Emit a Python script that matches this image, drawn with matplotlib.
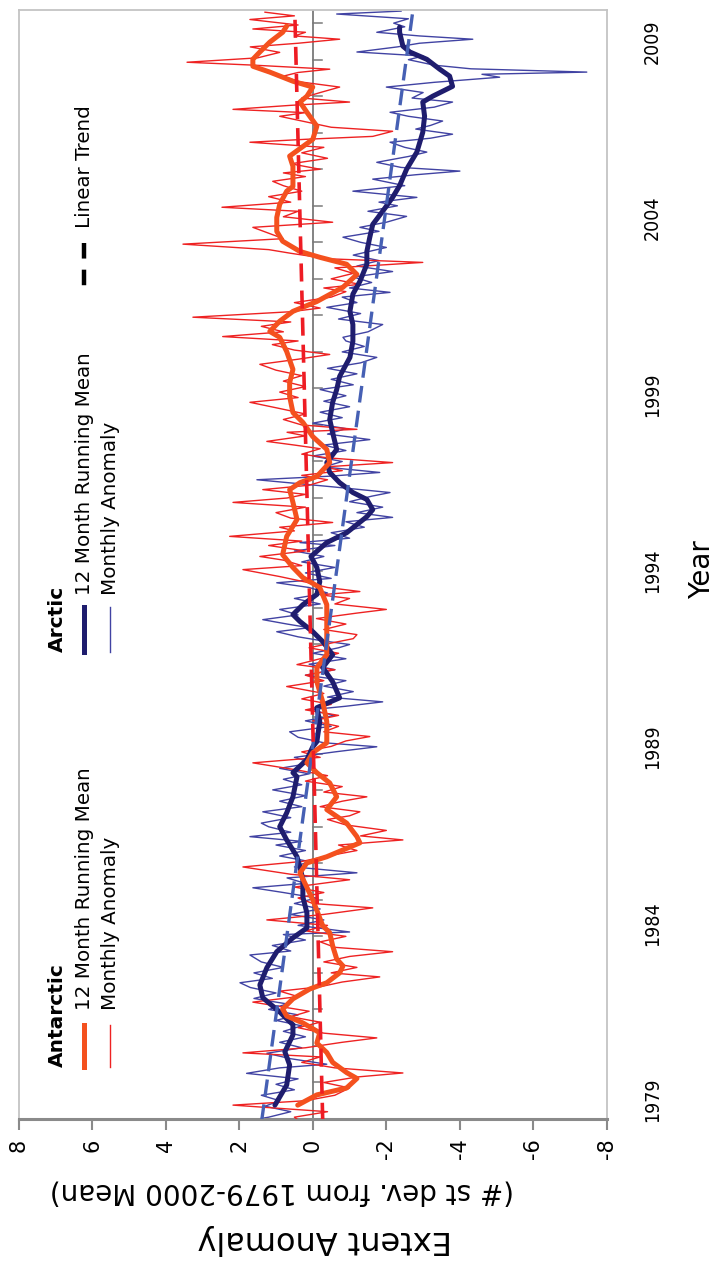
import numpy as np
import matplotlib.pyplot as plt
from matplotlib.lines import Line2D

plt.rcParams['font.family'] = ['DejaVu Sans']
plt.rcParams['axes.unicode_minus'] = False

# ---- data (year, anomaly in st dev) ----
arctic_mean_yr = [1979.38, 1979.93, 1980.48, 1980.84, 1981.30, 1981.58, 1981.93, 1982.32, 1982.67,
                  1983.14, 1983.58, 1983.96, 1984.23, 1984.64, 1985.08, 1985.55, 1985.90, 1986.18,
                  1986.64, 1987.00, 1987.38, 1987.82, 1988.37, 1988.48, 1988.84, 1989.19, 1989.33,
                  1989.88, 1990.26, 1990.53, 1990.97, 1991.36, 1991.71, 1992.07, 1992.34, 1992.62,
                  1992.81, 1993.08, 1993.36, 1993.71, 1994.10, 1994.40, 1994.78, 1995.05, 1995.49,
                  1995.68, 1995.96, 1996.15, 1996.42, 1996.70, 1996.97, 1997.33, 1997.79, 1998.15,
                  1998.62, 1998.97, 1999.33, 1999.85, 2000.29, 2000.75, 2001.11, 2001.58, 2001.93,
                  2002.40, 2002.75, 2003.14, 2003.49, 2003.85, 2004.23, 2004.55, 2005.00, 2005.47,
                  2006.01, 2006.45, 2006.84, 2007.00, 2007.19, 2007.27, 2007.55, 2007.74, 2008.01,
                  2008.21, 2008.37, 2008.75, 2008.89]
arctic_mean = [1.03, 0.71, 0.63, 0.76, 0.54, 0.54, 0.90, 1.36, 1.44,
               1.25, 0.98, 0.54, 0.16, 0.16, 0.27, 0.27, 0.35, 0.43,
               0.71, 0.90, 0.71, 0.54, 0.43, 0.54, 0.16, 0.00, -0.11,
               -0.19, -0.11, -0.73, -0.54, -0.27, -0.54, -0.27, 0.00, 0.35,
               0.54, 0.27, -0.11, -0.19, -0.11, 0.05, -0.38, -0.92, -1.47,
               -1.63, -1.47, -1.09, -0.73, -0.46, -0.38, -0.65, -0.54, -0.46,
               -0.54, -0.65, -0.73, -1.01, -1.09, -1.09, -1.01, -1.09, -1.28,
               -1.47, -1.47, -1.55, -1.63, -1.90, -2.17, -2.36, -2.55, -2.83,
               -2.99, -3.04, -2.99, -3.26, -3.64, -3.80, -3.72, -3.45, -3.10,
               -2.64, -2.45, -2.36, -2.36]

antarctic_mean_yr = [1979.38, 1979.66, 1979.85, 1980.11, 1980.27, 1980.55, 1980.82, 1981.08, 1981.36,
                     1981.63, 1981.82, 1982.01, 1982.29, 1982.56, 1982.73, 1983.00, 1983.19, 1983.38,
                     1983.74, 1984.10, 1984.29, 1985.00, 1985.74, 1986.01, 1986.18, 1986.56, 1986.73,
                     1987.10, 1987.47, 1987.82, 1988.20, 1988.48, 1988.75, 1989.03, 1989.30, 1989.88,
                     1990.42, 1990.97, 1991.36, 1991.71, 1992.18, 1992.62, 1993.08, 1993.55, 1993.82,
                     1994.10, 1994.45, 1994.95, 1995.41, 1995.88, 1996.23, 1996.42, 1996.59, 1996.97,
                     1997.33, 1997.68, 1998.07, 1998.34, 1998.78, 1999.16, 1999.52, 2000.01, 2000.40,
                     2000.56, 2000.84, 2001.11, 2001.38, 2001.77, 2002.12, 2002.40, 2002.59, 2002.75,
                     2003.03, 2003.30, 2003.68, 2004.04, 2004.40, 2004.53, 2005.08, 2005.36, 2005.82,
                     2006.18, 2006.56, 2006.84, 2007.00, 2007.25, 2007.41, 2007.66, 2007.82, 2008.01,
                     2008.21, 2008.48, 2008.75, 2008.92]
antarctic_mean = [0.41, -0.11, -0.92, -1.20, -0.92, -0.54, -0.38, -0.11, -0.19,
                  0.27, 0.71, 0.82, 0.54, 0.08, -0.38, -0.73, -0.82, -0.65,
                  -0.54, -0.46, -0.27, 0.00, 0.35, 0.16, -0.38, -1.28, -1.20,
                  -0.92, -0.38, -0.65, -0.46, -0.11, 0.16, 0.00, -0.38, -0.38,
                  -0.27, -0.11, -0.11, -0.38, -0.38, -0.38, -0.38, -0.19, 0.27,
                  0.54, 0.82, 0.71, 0.43, 0.54, 0.63, 0.35, -0.11, -0.46,
                  -0.38, 0.00, 0.27, 0.54, 0.63, 0.63, 0.54, 0.71, 0.90,
                  1.17, 0.90, 0.54, -0.11, -0.82, -1.20, -0.92, -0.19, 0.35,
                  0.82, 0.98, 0.98, 0.90, 0.71, 0.54, 0.54, 0.63, 0.00,
                  -0.11, 0.16, 0.35, 0.16, 0.00, 0.54, 1.17, 1.63, 1.63,
                  1.44, 1.17, 0.82, 0.71]

arctic_monthly_yr = [1978.9, 1979.05, 1979.2, 1979.35, 1979.5, 1979.65, 1979.8, 1979.95, 1980.1, 1980.25,
                     1980.4, 1980.5, 1980.65, 1980.8, 1980.95, 1981.1, 1981.25, 1981.4, 1981.55, 1981.7,
                     1981.85, 1982.0, 1982.15, 1982.3, 1982.45, 1982.6, 1982.73, 1982.85, 1983.0, 1983.15,
                     1983.3, 1983.49, 1983.6, 1983.75, 1983.9, 1984.05, 1984.12, 1984.3, 1984.45, 1984.6,
                     1984.75, 1984.9, 1985.05, 1985.2, 1985.33, 1985.45, 1985.6, 1985.74, 1985.9, 1986.05,
                     1986.2, 1986.35, 1986.5, 1986.6, 1986.73, 1986.85, 1987.0, 1987.1, 1987.25, 1987.41,
                     1987.55, 1987.7, 1987.85, 1988.01, 1988.15, 1988.3, 1988.45, 1988.6, 1988.75, 1988.9,
                     1989.05, 1989.19, 1989.3, 1989.45, 1989.6, 1989.75, 1989.9, 1990.05, 1990.2, 1990.3,
                     1990.42, 1990.55, 1990.7, 1990.85, 1991.0, 1991.15, 1991.3, 1991.45, 1991.6, 1991.75,
                     1991.9, 1991.99, 1992.1, 1992.2, 1992.34, 1992.45, 1992.55, 1992.67, 1992.8, 1992.95,
                     1993.1, 1993.25, 1993.4, 1993.55, 1993.68, 1993.8, 1993.95, 1994.1, 1994.25, 1994.4,
                     1994.55, 1994.7, 1994.78, 1994.9, 1995.05, 1995.2, 1995.35, 1995.47, 1995.6, 1995.75,
                     1995.9, 1996.05, 1996.15, 1996.3, 1996.5, 1996.6, 1996.7, 1996.85, 1997.0, 1997.15,
                     1997.3, 1997.45, 1997.6, 1997.75, 1997.9, 1998.05, 1998.2, 1998.35, 1998.5, 1998.65,
                     1998.8, 1998.97, 1999.1, 1999.25, 1999.4, 1999.55, 1999.7, 1999.85, 2000.0, 2000.15,
                     2000.3, 2000.4, 2000.55, 2000.75, 2000.9, 2001.05, 2001.22, 2001.35, 2001.5, 2001.63,
                     2001.75, 2001.9, 2002.05, 2002.2, 2002.35, 2002.5, 2002.65, 2002.86, 2003.0, 2003.14,
                     2003.3, 2003.41, 2003.55, 2003.71, 2003.85, 2004.0, 2004.1, 2004.23, 2004.4, 2004.55,
                     2004.73, 2004.85, 2004.95, 2005.05, 2005.19, 2005.35, 2005.47, 2005.6, 2005.74, 2005.85,
                     2005.96, 2006.1, 2006.2, 2006.32, 2006.45, 2006.56, 2006.7, 2006.84, 2006.95, 2007.1,
                     2007.25, 2007.38, 2007.52, 2007.6, 2007.66, 2007.75, 2007.85, 2008.0, 2008.1, 2008.21,
                     2008.35, 2008.45, 2008.56, 2008.65, 2008.75, 2008.9, 2009.0, 2009.12, 2009.25, 2009.33]
arctic_monthly = [2.07, 1.2, 0.6, 1.3, 0.9, 1.4, 0.5, 1.0, 0.4, 1.8,
                  0.9, -0.38, 0.6, 1.25, 0.3, 0.9, 0.2, 0.8, 0.3, 1.0,
                  0.4, 1.2, 0.7, 1.6, 1.0, 1.7, 1.98, 1.1, 1.6, 0.8,
                  1.4, 1.71, 0.6, 1.1, 0.2, 0.8, -1.0, 0.4, -0.3, 0.6,
                  -0.2, 0.5, -0.1, 0.8, 1.63, 0.2, 0.7, -1.2, 0.5, 0.1,
                  0.9, 0.2, 1.0, 0.3, 1.71, 0.6, 1.2, 1.4, 0.6, 1.36,
                  0.3, 0.9, 0.2, 1.09, 0.3, 0.8, 0.1, 0.9, 0.0, 0.5,
                  -0.6, -1.74, -0.3, 0.4, 0.63, -0.5, 0.2, -0.6, 0.1, -0.9,
                  -1.9, -0.4, -1.1, -0.3, -0.9, 0.2, -0.6, 0.1, -0.9, 0.0,
                  -0.7, -1.0, -0.2, 0.4, 0.98, 0.1, 0.7, 1.36, 0.4, 0.9,
                  -0.2, 0.5, -0.4, 0.1, 0.98, -0.5, 0.2, -0.6, 0.3, -0.3,
                  0.5, -0.6, 0.35, -1.0, -0.5, -1.4, -0.9, -2.17, -1.2, -1.9,
                  -1.0, -1.6, -2.1, -0.6, 1.52, -0.5, -1.82, -0.3, -0.8, 0.0,
                  -0.9, -0.3, -1.55, -0.4, -0.9, 0.0, -0.8, -0.2, -1.0, -0.3,
                  -0.9, -0.2, -1.1, -0.5, -1.2, -0.4, -1.3, -1.74, -0.8, -1.4,
                  -0.9, -0.82, -1.5, -1.9, -0.7, -1.3, -0.38, -1.2, -0.8, -2.1,
                  -1.0, -1.6, -1.1, -2.17, -1.2, -1.8, -1.1, -2.0, -1.3, -0.82,
                  -1.8, -1.28, -2.0, -2.55, -1.5, -2.3, -1.8, -2.83, -1.09, -2.5,
                  -1.63, -2.8, -4.0, -2.4, -1.74, -2.6, -3.1, -2.5, -2.1, -3.2,
                  -3.8, -2.8, -3.2, -3.53, -2.6, -2.1, -3.3, -3.8, -2.7, -3.0,
                  -2.0, -3.3, -5.08, -4.6, -7.45, -4.3, -3.3, -2.6, -3.0, -1.2,
                  -2.3, -2.9, -4.35, -2.9, -1.74, -2.5, -2.2, -2.6, -0.65, -2.4]

antarctic_monthly_yr = [1978.9, 1979.05, 1979.2, 1979.38, 1979.5, 1979.65, 1979.85, 1980.0, 1980.15, 1980.26,
                        1980.4, 1980.55, 1980.7, 1980.81, 1980.95, 1981.1, 1981.22, 1981.35, 1981.5, 1981.65,
                        1981.8, 1981.95, 1982.08, 1982.2, 1982.35, 1982.5, 1982.62, 1982.75, 1982.89, 1983.0,
                        1983.15, 1983.3, 1983.45, 1983.58, 1983.7, 1983.85, 1984.0, 1984.15, 1984.3, 1984.45,
                        1984.6, 1984.78, 1984.9, 1985.05, 1985.2, 1985.35, 1985.55, 1985.7, 1985.9, 1986.05,
                        1986.2, 1986.35, 1986.5, 1986.64, 1986.75, 1986.9, 1987.05, 1987.2, 1987.3, 1987.41,
                        1987.55, 1987.7, 1987.82, 1987.95, 1988.1, 1988.25, 1988.4, 1988.55, 1988.75, 1988.9,
                        1989.05, 1989.2, 1989.35, 1989.47, 1989.6, 1989.75, 1989.9, 1990.05, 1990.2, 1990.35,
                        1990.5, 1990.65, 1990.84, 1991.0, 1991.15, 1991.3, 1991.44, 1991.6, 1991.75, 1991.9,
                        1992.05, 1992.15, 1992.26, 1992.4, 1992.55, 1992.7, 1992.85, 1992.95, 1993.1, 1993.25,
                        1993.35, 1993.44, 1993.55, 1993.7, 1993.85, 1994.04, 1994.15, 1994.3, 1994.4, 1994.55,
                        1994.7, 1994.82, 1994.95, 1995.1, 1995.2, 1995.33, 1995.45, 1995.6, 1995.75, 1995.88,
                        1996.0, 1996.1, 1996.23, 1996.35, 1996.5, 1996.62, 1996.75, 1996.85, 1996.97, 1997.1,
                        1997.2, 1997.35, 1997.45, 1997.55, 1997.7, 1997.8, 1997.88, 1998.0, 1998.15, 1998.3,
                        1998.45, 1998.62, 1998.75, 1998.9, 1999.05, 1999.2, 1999.35, 1999.5, 1999.66, 1999.8,
                        1999.93, 2000.05, 2000.2, 2000.3, 2000.42, 2000.55, 2000.7, 2000.82, 2000.95, 2001.1,
                        2001.2, 2001.35, 2001.5, 2001.65, 2001.75, 2001.85, 2002.0, 2002.15, 2002.3, 2002.45,
                        2002.55, 2002.7, 2002.8, 2002.95, 2003.1, 2003.25, 2003.41, 2003.55, 2003.7, 2003.85,
                        2003.96, 2004.1, 2004.25, 2004.4, 2004.55, 2004.67, 2004.8, 2004.9, 2005.0, 2005.15,
                        2005.3, 2005.45, 2005.6, 2005.74, 2005.82, 2005.9, 2006.04, 2006.15, 2006.3, 2006.45,
                        2006.55, 2006.64, 2006.75, 2006.84, 2006.95, 2007.1, 2007.25, 2007.4, 2007.55, 2007.65,
                        2007.74, 2007.85, 2007.93, 2008.05, 2008.2, 2008.35, 2008.45, 2008.56, 2008.65, 2008.75,
                        2008.84, 2008.95, 2009.1, 2009.2, 2009.3]
antarctic_monthly = [0.3, 0.5, -0.4, 2.17, 0.2, -0.6, -1.0, -0.3, -1.2, -2.45,
                     -0.6, 0.3, -0.2, 1.9, 0.2, -0.8, -1.74, -0.3, 0.4, -0.2,
                     0.6, 0.1, 0.9, 1.63, 0.4, 0.9, -0.2, -0.8, -1.82, -0.5,
                     -1.2, -0.3, -1.0, -2.17, -0.6, -0.2, -0.9, 0.2, -0.4, 1.25,
                     -0.3, -1.63, 0.0, 0.4, -0.3, 0.5, -1.0, 0.6, 1.9, 0.3,
                     -0.4, -1.2, -0.7, -2.45, -1.3, -2.0, -0.9, -0.4, -1.0, -1.28,
                     -0.2, -0.8, -1.47, -0.3, -0.8, 0.2, -0.4, 0.4, 1.63, -0.2,
                     0.3, -0.5, -0.9, -1.55, -0.3, -0.7, 0.0, -0.7, 0.2, -0.5,
                     0.3, -0.3, 0.71, -0.3, 0.2, -0.6, 0.43, -0.2, -0.7, 0.1,
                     -0.6, -1.1, -1.2, -0.3, -0.9, -0.1, -1.2, -2.0, -0.6, -1.0,
                     -0.2, -1.28, -0.4, 0.2, 0.9, 1.9, 0.3, 0.8, 1.44, 0.2,
                     1.2, 0.3, 2.26, 0.5, 0.9, -0.54, 0.6, 1.0, 0.2, 2.17,
                     0.7, 0.2, 1.36, 0.1, -0.4, 0.3, -0.8, -0.3, -2.17, -0.4,
                     0.3, -0.2, 0.5, 1.25, 0.2, 0.7, -1.2, 0.3, 0.8, 0.2,
                     0.9, 1.71, 0.4, 0.9, 0.2, 0.8, 0.3, 1.0, 1.44, 0.4,
                     -0.46, 0.5, 1.1, 0.4, 2.45, 0.8, 1.4, 0.6, 3.26, 0.6,
                     -0.2, 0.5, -0.5, -0.9, -0.3, -1.28, -0.5, -1.1, -0.6, -2.99,
                     -0.4, 0.6, 1.2, 3.53, 0.8, 1.2, 1.63, -0.54, 0.8, 0.4,
                     2.47, 0.6, 1.2, 0.3, 0.8, 1.09, 0.2, 0.8, -0.2, 0.6,
                     -0.4, 0.3, -0.3, 1.71, 0.2, -1.63, -2.17, -0.5, 0.2, 0.9,
                     0.2, 2.17, 0.6, -1.0, 0.3, -0.2, -0.73, 0.4, 0.8, 0.4,
                     -0.46, 1.6, 3.42, 1.5, 0.9, 1.7, 0.4, -0.73, 0.5, 0.2,
                     1.63, 0.4, 1.71, 0.5, 1.3]

# linear trend end points
arctic_trend_yr = [1978.95, 2009.33]
arctic_trend = [1.39, -2.72]
antarctic_trend_yr = [1978.95, 2009.33]
antarctic_trend = [-0.27, 0.49]

year_labels = ['1979', '1984', '1989', '1994', '1999', '2004', '2009']
value_ticks = [8, 6, 4, 2, 0, -2, -4, -6, -8]

C_ANT_MEAN = '#f4511e'
C_ANT_MON = '#ee2222'
C_ANT_TREND = '#ee1c24'
C_ARC_MEAN = '#1f1d6e'
C_ARC_MON = '#4143a3'
C_ARC_TREND = '#4660b4'

W, H = 716, 1270


def px(x, y):
    return x / W, 1 - y / H


fig = plt.figure(figsize=(7.16, 12.70), dpi=100)
ax = fig.add_axes([18.6 / W, 1 - 1119 / H, (607 - 18.6) / W, (1119 - 10) / H])
ax.set_xlim(8, -8)
ax.set_ylim(1979, 2009.36)

# the chart is drawn turned on its side: anomaly runs across, years run up
ax.plot(arctic_monthly, arctic_monthly_yr, color=C_ARC_MON, lw=1.0, zorder=2)
ax.plot(antarctic_monthly, antarctic_monthly_yr, color=C_ANT_MON, lw=1.0, zorder=3)
ax.plot(arctic_mean, arctic_mean_yr, color=C_ARC_MEAN, lw=3.6, zorder=4, solid_capstyle='round')
ax.plot(antarctic_mean, antarctic_mean_yr, color=C_ANT_MEAN, lw=3.6, zorder=5, solid_capstyle='round')
ax.plot(arctic_trend, arctic_trend_yr, color=C_ARC_TREND, lw=2.4, dashes=(5, 2.5), zorder=6)
ax.plot(antarctic_trend, antarctic_trend_yr, color=C_ANT_TREND, lw=2.6, dashes=(5, 2.5), zorder=6)

# zero line with yearly ticks
ax.axvline(0, color='#7a7a7a', lw=1.3, zorder=1)
for yr in range(1980, 2010):
    ax.plot([0, -0.25], [yr, yr], color='#7a7a7a', lw=1.1, zorder=1)

ax.set_xticks(value_ticks)
ax.set_xticklabels([str(v) for v in value_ticks])
ax.tick_params(axis='x', direction='out', length=8, width=1.5, color='#8a8a8a',
               labelrotation=90, labelsize=15, pad=6)

# category labels sit a little inside the ends of the axis, as in the source
ax.yaxis.tick_right()
ax.set_yticks(np.linspace(1979.52, 2008.5, len(year_labels)))
ax.set_yticklabels(year_labels)
ax.tick_params(axis='y', length=0, labelrotation=90, labelsize=14, pad=26)
for lab in ax.get_yticklabels():
    lab.set_fontstretch('condensed')
    lab.set_va('center')

for side in ['left', 'top', 'right']:
    ax.spines[side].set_color('#c4c4c4')
    ax.spines[side].set_linewidth(1.3)
ax.spines['bottom'].set_color('#8a8a8a')
ax.spines['bottom'].set_linewidth(2.2)

# axis titles
fig.text(*px(702, 570), 'Year', rotation=90, ha='center', va='center', fontsize=20)
fig.text(*px(282, 1192), '(# st dev. from 1979-2000 Mean)', rotation=180,
         ha='center', va='center', fontsize=20)
fig.text(*px(325, 1240), 'Extent Anomaly', rotation=180, ha='center', va='center', fontsize=23)

# legend
def legend_line(x, y0, y1, **kw):
    fig.add_artist(Line2D([x / W, x / W], [1 - y0 / H, 1 - y1 / H],
                          transform=fig.transFigure, **kw))


def legend_text(x, y, s, size=14.3, **kw):
    fig.text(*px(x, y), s, rotation=90, ha='center', va='bottom', fontsize=size, **kw)


legend_text(57, 1067, 'Antarctic', size=14.5, fontweight='bold')
legend_line(84, 1025, 1067, color=C_ANT_MEAN, lw=3.6)
legend_text(84, 1010, '12 Month Running Mean')
legend_line(110, 1025, 1067, color=C_ANT_MON, lw=1.0)
legend_text(110, 1010, 'Monthly Anomaly')

legend_text(57, 652, 'Arctic', size=14.5, fontweight='bold')
legend_line(84, 607, 652, color=C_ARC_MEAN, lw=3.6)
legend_text(84, 595, '12 Month Running Mean')
legend_line(110, 607, 652, color=C_ARC_MON, lw=1.0)
legend_text(110, 595, 'Monthly Anomaly')

legend_line(84, 243, 287, color='black', lw=3.2, dashes=(3.5, 2.5))
legend_text(84, 228, 'Linear Trend')

fig.savefig('out.png', dpi=100)
